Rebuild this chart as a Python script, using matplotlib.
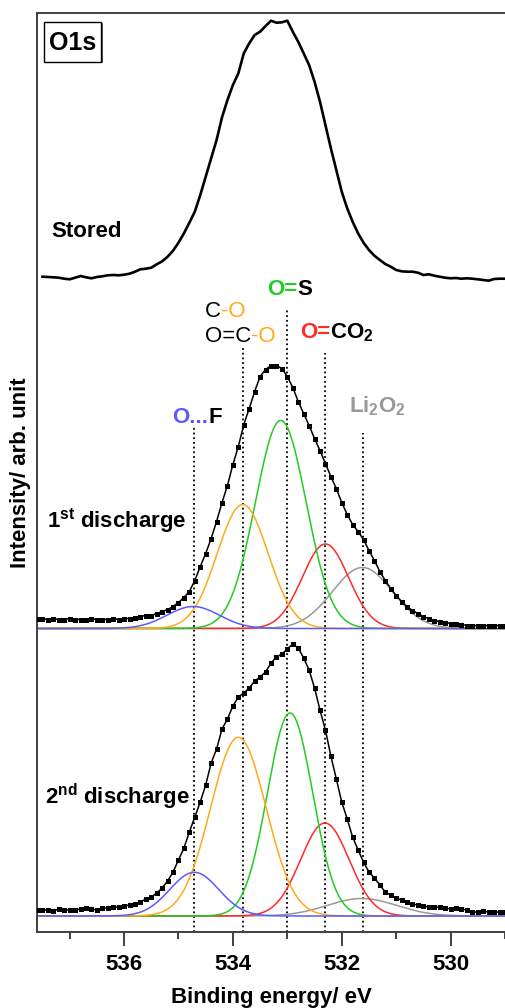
import numpy as np
import matplotlib
matplotlib.use('Agg')
import matplotlib.pyplot as plt
from matplotlib.transforms import offset_copy
from matplotlib.patches import Rectangle

plt.rcParams['font.family'] = ['Liberation Sans', 'DejaVu Sans']
plt.rcParams['mathtext.fontset'] = 'custom'
plt.rcParams['mathtext.rm'] = 'Liberation Sans'
plt.rcParams['mathtext.bf'] = 'Liberation Sans:bold'
plt.rcParams['mathtext.it'] = 'Liberation Sans:italic'

# ---------------- data ----------------
energy_stored = np.linspace(537.5, 529.0, 86)
intensity_stored = [3.3, 3, 2.7, 2.3, 1.3, 0.7, 2.3, 4, 2.7, 1.7, 3, 3.7, 4.7, 5, 4.7, 5.3,
                    6.3, 8.3, 10.7, 11.3, 12.3, 15.7, 18.7, 23.3, 29.3, 37.3, 46.7, 57.3,
                    68.3, 85, 103.3, 121.7, 140, 162.7, 180, 195, 206.7, 226.7, 236.7, 245,
                    248.3, 254, 259.3, 257.3, 257.7, 259.3, 248.3, 238.3, 226.7, 215, 198.3,
                    178.3, 155, 131.7, 110, 88.3, 71.7, 58.3, 46.7, 37.3, 30, 24.3, 20, 16,
                    13.3, 10, 8.7, 8.3, 8.3, 7.3, 5, 5.7, 4.3, 3.3, 2.3, 1.7, 2, 1.3, 1.7,
                    1.3, 0.7, 0, -0.7, 1, 1.3, 1.3]

energy_dis = np.linspace(537.6, 529.0, 87)
intensity_1st = [10, 10, 9, 10, 9, 9, 10, 9, 9, 9, 10, 9, 9, 9, 10, 9, 10,
                 10, 11, 12, 13, 13, 15, 17, 19, 22, 26,
                 31, 37, 48, 62, 75, 90, 107, 126, 143, 164,
                 182, 204, 220, 237, 252, 259, 263, 263, 260, 252,
                 241, 227, 215, 203, 190, 178, 165, 152, 140, 126,
                 114, 104, 97, 89, 78, 68, 57, 48, 40, 33,
                 27, 22, 18, 15, 12, 10, 8, 7, 6, 5,
                 5, 4, 3, 3, 3, 3, 3, 3, 3, 3]
intensity_2nd = [6, 6, 6, 5, 7, 6, 6, 6, 7, 8, 7, 6, 8, 8, 9, 9, 10,
                 11, 12, 14, 17, 19, 23, 28, 35, 44, 56,
                 68, 84, 99, 114, 131, 153, 167, 187, 197, 210,
                 219, 223, 228, 235, 239, 244, 253, 259, 262, 267,
                 272, 268, 258, 246, 228, 206, 186, 160, 137, 114,
                 97, 79, 66, 54, 44, 38, 31, 24, 21, 18,
                 16, 14, 12, 11, 10, 9, 9, 9, 8, 7,
                 8, 7, 6, 4, 4, 5, 4, 4, 4, 4]

# fitted components: O...F, C-O/O=C-O, O=S, O=CO2, Li2O2
comp_names = ['O...F', 'C-O', 'O=S', 'O=CO2', 'Li2O2']
centers_1st = [534.73, 533.82, 533.12, 532.30, 531.62]
heights_1st = [22, 124, 208, 84.5, 61]
fwhm_1st = [1.13, 1.10, 1.10, 1.00, 1.30]
centers_2nd = [534.71, 533.90, 532.95, 532.31, 531.63]
heights_2nd = [43.7, 178.7, 203, 93, 17.5]
fwhm_2nd = [1.06, 1.20, 0.98, 1.05, 1.50]

line_positions = [534.72, 533.81, 533.00, 532.31, 531.61]
line_tops = [505, 584, 624, 579, 499]

offset_stored = 652
offset_1st = 303.5
offset_2nd = 16

xticks_major = [536, 534, 532, 530]
xticks_minor = [537, 535, 533, 531, 529]

comp_colors = ['#5a5aff', '#ffaa1a', '#22cc22', '#ff2a2a', '#999999']

# ---------------- figure ----------------
fig = plt.figure(figsize=(5.05, 10.08), dpi=100)
ax = fig.add_axes([37 / 505, (1008 - 932) / 1008, 468 / 505, 919 / 1008])
ax.set_xlim(537.6, 529.0)
ax.set_ylim(0, 919)

x_fine = np.linspace(537.6, 529.0, 600)


def component(c, h, w):
    s = w / 2.3548
    return h * np.exp(-(x_fine - c) ** 2 / (2 * s * s))


for centers, heights, fwhms, off in [(centers_1st, heights_1st, fwhm_1st, offset_1st),
                                     (centers_2nd, heights_2nd, fwhm_2nd, offset_2nd)]:
    for idx in [4, 3, 2, 1, 0]:
        ax.plot(x_fine, component(centers[idx], heights[idx], fwhms[idx]) + off,
                color=comp_colors[idx], lw=1.1, zorder=2)

ax.plot(energy_stored, np.array(intensity_stored) + offset_stored, color='black', lw=1.9, zorder=3)
for data, off in [(intensity_1st, offset_1st), (intensity_2nd, offset_2nd)]:
    ax.plot(energy_dis, np.array(data) + off, color='black', lw=1.1, marker='s',
            markersize=3.6, markeredgewidth=0, zorder=4)

ax.vlines(line_positions, 0, line_tops, colors='black', linestyles=(0, (1, 1.6)), lw=1.3, zorder=1)

# axes styling
for side in ['left', 'top', 'bottom']:
    ax.spines[side].set_color('#404040')
    ax.spines[side].set_linewidth(1.4)
ax.spines['right'].set_visible(False)
ax.set_yticks([])
ax.set_xticks(xticks_major)
ax.set_xticks(xticks_minor, minor=True)
ax.set_xticklabels([str(t) for t in xticks_major], fontsize=16, fontweight='bold')
ax.tick_params(axis='x', which='major', length=10, width=1.4, color='#404040', pad=5.5)
ax.tick_params(axis='x', which='minor', length=5, width=1.4, color='#404040')
ax.set_xlabel('Binding energy/ eV', fontsize=16, fontweight='bold')
ax.xaxis.set_label_coords(0.5, -0.0595)
ax.set_ylabel('Intensity/ arb. unit', fontsize=16, fontweight='bold')
ax.yaxis.set_label_coords(-0.013, 0.5)

# sample names
ax.text(537.33, 695.3, 'Stored', fontsize=16, fontweight='bold', ha='left', va='baseline')
ax.text(537.41, 404.7, r'$\mathbf{1^{st}}$ discharge', fontsize=16, fontweight='bold',
        ha='left', va='baseline')
ax.text(537.45, 128, r'$\mathbf{2^{nd}}$ discharge', fontsize=16, fontweight='bold',
        ha='left', va='baseline')

# O1s box
ax.add_patch(Rectangle((0.01496 + 0.0032, 0.9467 - 0.0016), 0.1218, 0.0435, transform=ax.transAxes,
                       facecolor='#555555', edgecolor='none', zorder=5))
ax.add_patch(Rectangle((0.01496, 0.9467), 0.1218, 0.0435, transform=ax.transAxes,
                       facecolor='white', edgecolor='black', lw=1.0, zorder=6))
ax.text(0.0763, 0.9597, 'O1s', transform=ax.transAxes, fontsize=18, fontweight='bold',
        ha='center', va='baseline', zorder=7)

# multicolour labels
fig.canvas.draw()
renderer = fig.canvas.get_renderer()


def multicolor(x, y, pieces, **kw):
    trans = ax.transData
    for s, c in pieces:
        t = ax.text(x, y, s, color=c, transform=trans, ha='left', va='baseline', **kw)
        bb = t.get_window_extent(renderer=renderer)
        trans = offset_copy(trans, fig=fig, x=bb.width, units='dots')


multicolor(533.37, 637, [('O=', comp_colors[2]), ('S', 'black')], fontsize=16, fontweight='bold')
multicolor(534.52, 615.3, [('C', 'black'), ('-O', comp_colors[1])], fontsize=16)
multicolor(534.52, 590.3, [('O=C', 'black'), ('-O', comp_colors[1])], fontsize=16)
multicolor(532.77, 593.7, [('O=', comp_colors[3]), (r'CO$_\mathbf{2}$', 'black')],
           fontsize=16, fontweight='bold')
multicolor(531.87, 519.3, [(r'Li$_\mathbf{2}$O$_\mathbf{2}$', comp_colors[4])],
           fontsize=16, fontweight='bold')
multicolor(535.11, 509.3, [('O...', comp_colors[0]), ('F', 'black')], fontsize=16, fontweight='bold')

fig.savefig('out.png', dpi=100)
